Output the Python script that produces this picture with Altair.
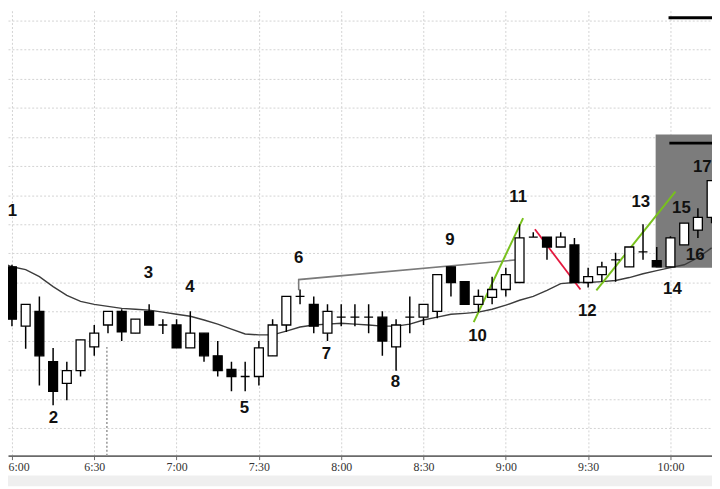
import altair as alt
import pandas as pd

# ---- candle data (5-minute bars, index -1 .. 51, bar time = 6:00 + 5*i minutes) ----
bar_index = list(range(-1, 52))
opens = [7.02, 6.54, 4.50, 5.01, 3.28, 2.53, 2.97, 3.79, 4.54, 5.01,
         4.26, 5.01, 4.54, 4.54, 3.75, 4.26, 3.48, 3.01, 2.77, 2.77,
         3.48, 4.54, 5.52, 5.25, 4.26, 4.81, 4.81, 4.81, 4.81, 3.79,
         4.81, 4.81, 5.01, 6.54, 6.03, 5.25, 5.49, 5.76, 6.00, 7.56,
         7.56, 7.22, 7.29, 6.00, 6.27, 6.78, 6.54, 7.05, 6.75, 6.54,
         7.29, 7.80, 8.24]
highs = [7.15, 6.61, 5.25, 5.52, 3.75, 3.28, 4.03, 4.54, 5.01, 5.08,
         4.74, 5.25, 4.74, 4.74, 5.01, 4.26, 3.99, 3.28, 3.28, 3.99,
         4.74, 5.52, 5.76, 5.52, 5.25, 5.25, 5.25, 5.25, 5.01, 4.74,
         5.52, 5.25, 6.27, 6.54, 6.03, 5.76, 6.20, 6.51, 8.00, 7.73,
         7.56, 7.73, 7.53, 6.51, 6.71, 7.02, 7.22, 8.00, 7.22, 7.59,
         8.04, 8.55, 9.50]
lows = [6.10, 4.50, 3.72, 2.46, 1.78, 1.95, 2.77, 3.48, 4.26, 3.99,
        4.26, 4.54, 4.23, 3.75, 3.75, 3.28, 2.77, 2.26, 2.26, 2.46,
        3.48, 4.30, 5.25, 4.26, 3.99, 4.50, 4.50, 4.26, 3.48, 2.97,
        4.26, 4.54, 4.77, 5.52, 5.25, 4.98, 5.25, 5.52, 6.00, 7.56,
        6.78, 7.22, 6.00, 5.83, 6.03, 6.03, 6.54, 6.78, 6.54, 6.54,
        7.29, 7.53, 8.04]
closes = [6.27, 4.74, 5.25, 3.48, 2.26, 2.97, 4.03, 4.26, 5.01, 4.30,
          4.74, 4.54, 4.54, 3.75, 4.26, 3.48, 2.97, 2.77, 2.77, 3.75,
          4.54, 5.52, 5.52, 4.50, 5.01, 4.81, 4.81, 4.81, 3.99, 4.54,
          4.81, 5.25, 6.27, 6.00, 5.25, 5.52, 5.76, 6.27, 7.53, 7.56,
          7.22, 7.56, 6.00, 6.20, 6.54, 6.78, 7.22, 7.05, 6.54, 7.53,
          8.04, 8.24, 9.50]
ema = [6.71, 6.54, 6.44, 6.20, 5.86, 5.56, 5.35, 5.25, 5.18, 5.11,
       5.08, 5.05, 4.98, 4.91, 4.84, 4.71, 4.57, 4.40, 4.23, 4.20,
       4.20, 4.33, 4.47, 4.54, 4.57, 4.60, 4.57, 4.54, 4.50, 4.50,
       4.57, 4.71, 4.81, 4.91, 4.94, 4.98, 5.08, 5.22, 5.39, 5.52,
       5.73, 5.96, 6.00, 6.00, 6.03, 6.07, 6.17, 6.30, 6.41, 6.51,
       6.61, 6.85, 7.19]

# ---- annotations ----
label_text = ["1", "2", "3", "4", "5", "6", "7", "8", "9", "10", "11", "12",
              "13", "14", "15", "16", "17"]
label_t = [360.2, 375.1, 409.7, 424.9, 444.7, 464.5, 474.6, 499.8, 519.6,
           529.7, 544.5, 569.7, 589.2, 600.7, 604.0, 609.0, 611.6]
label_p = [8.45, 1.34, 6.34, 5.86, 1.68, 6.85, 3.55, 2.57, 7.46,
           4.16, 8.92, 5.01, 8.75, 5.76, 8.55, 6.95, 9.97]

gray_line_t = [464.5, 464.5, 544.1]
gray_line_p = [5.73, 6.10, 6.78]
green1_t = [528.3, 546.3]
green1_p = [4.64, 8.21]
red_t = [550.6, 567.2]
red_p = [7.83, 5.76]
green2_t = [573.0, 601.8]
green2_p = [5.73, 9.12]

box_t = [594.6, 620.0]
box_p = [6.51, 11.09]
bar_lines_t = [599.6, 599.3]
bar_lines_p = [10.79, 15.10]
session_t = [394.6]
session_p = [0.05, 3.82]

tick_values = [360, 390, 420, 450, 480, 510, 540, 570, 600]
grid_values = list(range(1, 16))

# ---- tables ----
df = pd.DataFrame({
    "t": [360 + 5 * i for i in bar_index],
    "open": opens, "high": highs, "low": lows, "close": closes, "ema": ema,
})
df["dir"] = ["up" if c >= o else "down" for o, c in zip(opens, closes)]

labels = pd.DataFrame({"t": label_t, "p": label_p, "txt": label_text})

def line_df(ts, ps):
    return pd.DataFrame({"t": ts, "p": ps, "o": list(range(len(ts)))})

xs = alt.Scale(domain=[358.56, 615.14], nice=False, zero=False, padding=0)
ys = alt.Scale(domain=[0.05, 15.34], nice=False, zero=False, padding=0)

xaxis = alt.Axis(
    values=tick_values, title=None, grid=True, gridDash=[2, 2], gridColor="#d2d2d2",
    domainColor="#6a6a6a", domainWidth=1.6, tickColor="#6a6a6a", tickSize=4,
    labelFont="Liberation Sans Narrow", labelFontSize=12, labelColor="#333333",
    labelPadding=2, labelFlush=6, labelFlushOffset=4, labelOverlap=False,
    labelExpr="floor(datum.value/60) + ':' + (datum.value % 60 < 10 ? '0' : '') + (datum.value % 60)")
yaxis = alt.Axis(
    values=grid_values, title=None, labels=False, ticks=False, domain=False,
    grid=True, gridDash=[2, 2], gridColor="#d2d2d2")

def X(f):
    return alt.X(f, scale=xs, axis=xaxis)

def Y(f):
    return alt.Y(f, scale=ys, axis=yaxis)

band = alt.Chart(line_df([400], [1])).mark_rect(color="#efefef", clip=False).encode(
    x=alt.value(-8), x2=alt.value(712), y=alt.value(470), y2=alt.value(481))

box = alt.Chart(pd.DataFrame({"t": [box_t[0]], "t2": [box_t[1]], "p": [box_p[0]], "p2": [box_p[1]]})
                ).mark_rect(color="#7c7c7c", clip=True).encode(
    x=X("t:Q"), x2="t2:Q", y=Y("p:Q"), y2="p2:Q")

bar_lines = alt.Chart(pd.DataFrame({"t": bar_lines_t, "t2": [620.0, 620.0], "p": bar_lines_p})
                      ).mark_rule(color="black", strokeWidth=3, clip=True).encode(
    x=X("t:Q"), x2="t2:Q", y=Y("p:Q"))

session = alt.Chart(pd.DataFrame({"t": session_t, "p": [session_p[0]], "p2": [session_p[1]]})
                    ).mark_rule(color="#9c9c9c", strokeDash=[2, 2], strokeWidth=1.6).encode(
    x=X("t:Q"), y=Y("p:Q"), y2="p2:Q")

ema_line = alt.Chart(df).mark_line(color="#3c3c3c", strokeWidth=1.4, clip=True).encode(
    x=X("t:Q"), y=Y("ema:Q"))

def ann(ts, ps, color, w):
    return alt.Chart(line_df(ts, ps)).mark_line(color=color, strokeWidth=w, clip=True).encode(
        x=X("t:Q"), y=Y("p:Q"), order="o:O")

gray_line = ann(gray_line_t, gray_line_p, "#7a7a7a", 1.6)
green1 = ann(green1_t, green1_p, "#78c11d", 2)
red = ann(red_t, red_p, "#e3173d", 1.8)
green2 = ann(green2_t, green2_p, "#78c11d", 2)

wicks = alt.Chart(df).mark_rule(color="black", strokeWidth=1.5, clip=True).encode(
    x=X("t:Q"), y=Y("low:Q"), y2="high:Q")

bodies = alt.Chart(df).mark_bar(size=9, stroke="black", strokeWidth=1.3, clip=True).encode(
    x=X("t:Q"), y=Y("open:Q"), y2="close:Q",
    fill=alt.Fill("dir:N", scale=alt.Scale(domain=["up", "down"], range=["white", "black"]),
                  legend=None))

texts = alt.Chart(labels).mark_text(font="Liberation Sans", fontSize=17, fontWeight="bold",
                                    color="#111111").encode(
    x=X("t:Q"), y=Y("p:Q"), text="txt:N")

chart = alt.layer(band, box, session, ema_line, gray_line, green1, red, green2,
                  wicks, bodies, bar_lines, texts).properties(
    width=712, height=450, autosize="none",
    padding={"left": 0, "top": 0, "right": 0, "bottom": 31},
).configure_view(strokeWidth=0)

chart.save("out.html", embed_options={"renderer": "svg", "actions": False})
